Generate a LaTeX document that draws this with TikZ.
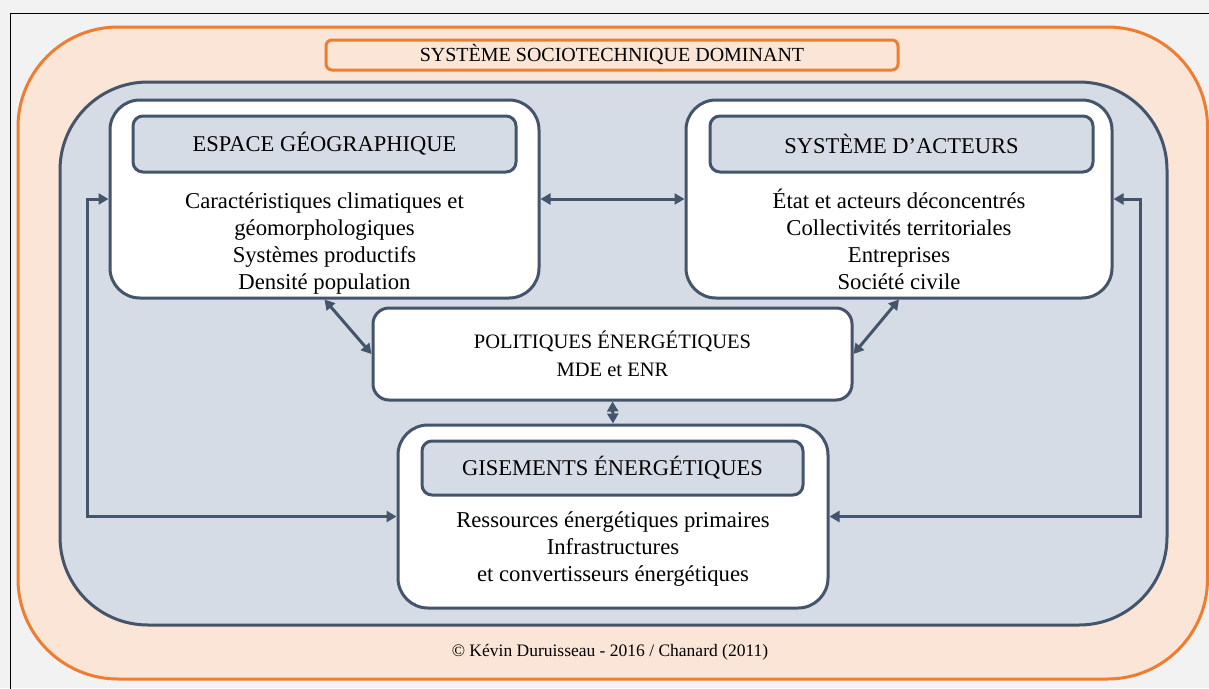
\documentclass[tikz,border=0pt]{standalone}
\usepackage{fontspec}
\setmainfont{Liberation Serif}
\usetikzlibrary{arrows.meta}
\definecolor{bgray}{HTML}{F2F2F2}
\definecolor{orng}{HTML}{ED7D31}
\definecolor{peach}{HTML}{FBE5D6}
\definecolor{bfill}{HTML}{D6DCE5}
\definecolor{dark}{HTML}{44546A}
\tikzset{
  bigbox/.style={draw=dark, fill=white, line width=3pt, inner sep=0pt},
  headbox/.style={draw=dark, fill=bfill, line width=3pt, rounded corners=10pt, inner sep=0pt,
     font=\fontsize{22.5}{26}\selectfont, text=black},
  bodytxt/.style={align=center, font=\fontsize{22.7}{27}\selectfont, inner sep=0pt},
  dbl/.style={draw=dark, line width=3pt, {Triangle[length=10pt,width=11pt]}-{Triangle[length=10pt,width=11pt]}},
}
\begin{document}
\begin{tikzpicture}[x=1pt,y=-1pt]
\useasboundingbox (0,0) rectangle (1209,688);
\fill[bgray] (0,0) rectangle (1209,688);
\draw[black, line width=1pt] (10,690) -- (10,13) -- (1211,13);
% outer orange
\draw[orng, fill=peach, line width=3pt, rounded corners=100pt] (18,27) rectangle (1207.5,679);
% title
\node[draw=orng, fill=peach, line width=3pt, rounded corners=6pt, minimum width=572pt, minimum height=30pt, inner sep=0pt,
  font=\fontsize{20}{24}\selectfont] (title) at (612,55) {SYSTÈME SOCIOTECHNIQUE DOMINANT};
% blue inner
\draw[dark, fill=bfill, line width=3pt, rounded corners=88pt] (60,82) rectangle (1167,625);
% boxes
\node[bigbox, rounded corners=30pt, minimum width=429pt, minimum height=198pt] (esp) at (324.5,199) {};
\node[headbox, minimum width=383pt, minimum height=56pt] (esph) at (324.5,144) {ESPACE GÉOGRAPHIQUE};
\node[bodytxt] (espt) at (324.5,243.5) {Caractéristiques climatiques et\\géomorphologiques\\Systèmes productifs\\Densité population};

\node[bigbox, rounded corners=30pt, minimum width=426pt, minimum height=198pt] (act) at (899,199) {};
\node[headbox, minimum width=383pt, minimum height=56pt] (acth) at (901.5,144) {SYSTÈME D’ACTEURS};
\node[bodytxt] (actt) at (899,239.5) {État et acteurs déconcentrés\\Collectivités territoriales\\Entreprises\\Société civile};

\node[bigbox, rounded corners=16pt, minimum width=479pt, minimum height=92pt, align=center,
  font=\fontsize{20.5}{28}\selectfont] (pol) at (612.5,354) {POLITIQUES ÉNERGÉTIQUES\\MDE et ENR};

\node[bigbox, rounded corners=30pt, minimum width=430pt, minimum height=183pt] (gis) at (613,516.5) {};
\node[headbox, minimum width=381pt, minimum height=54pt] (gish) at (612.5,468) {GISEMENTS ÉNERGÉTIQUES};
\node[bodytxt] (gist) at (613,549) {Ressources énergétiques primaires\\Infrastructures\\et convertisseurs énergétiques};

% connectors
\draw[dbl] (esp.east) -- (act.west);
\draw[dbl] (esp.south) -- (pol.west);
\draw[dbl] (act.south) -- (pol.east);
\draw[dbl] (pol.south) -- (gis.north);
\draw[dbl] (esp.west) -- ++(-21,0) |- (gis.west);
\draw[dbl] (act.east) -- ++(27,0) |- (gis.east);

\node[font=\fontsize{17.5}{20}\selectfont] (copy) at (610,652) {© Kévin Duruisseau - 2016 / Chanard (2011)};
\end{tikzpicture}
\end{document}
